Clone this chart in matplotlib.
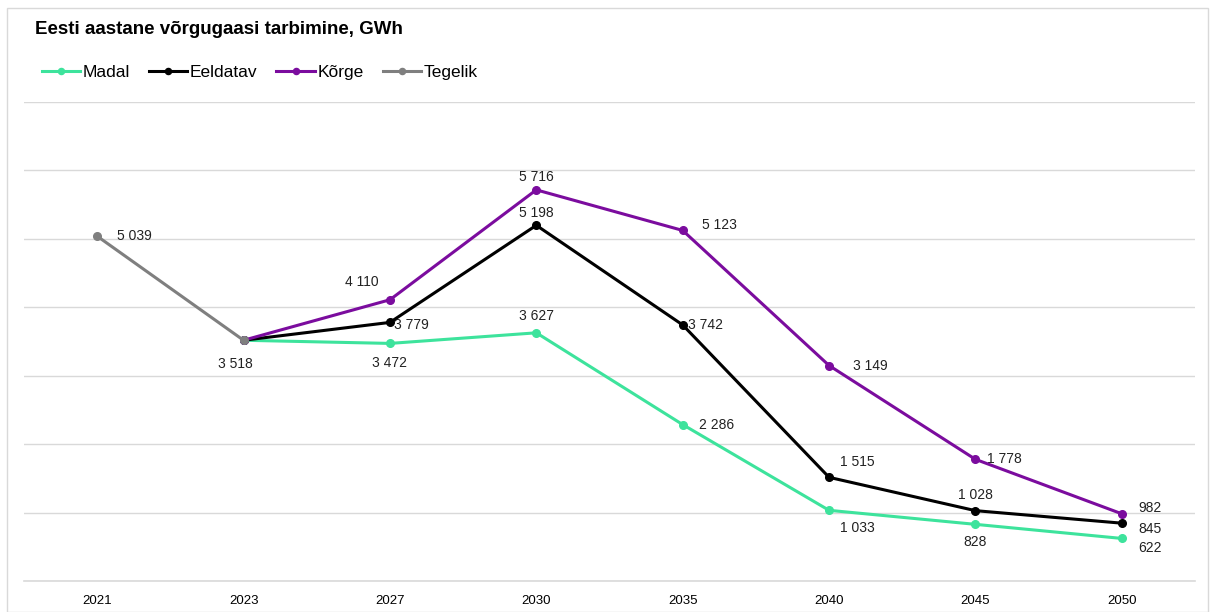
import matplotlib
matplotlib.use("Agg")
import matplotlib.pyplot as plt
from matplotlib.patches import Rectangle
import numpy as np

plt.rcParams["font.family"] = ["Liberation Sans", "DejaVu Sans"]

years = ["2021", "2023", "2027", "2030", "2035", "2040", "2045", "2050"]
tegelik = [5039, 3518]
madal = [3518, 3472, 3627, 2286, 1033, 828, 622]
eeldatav = [3518, 3779, 5198, 3742, 1515, 1028, 845]
korge = [3518, 4110, 5716, 5123, 3149, 1778, 982]

# label offsets in points (dx, dy, ha, va) per point
madal_off = [None, (0, -9, "center", "top"), (0, 7, "center", "bottom"), (12, 0, "left", "center"),
             (8, -8, "left", "top"), (0, -8, "center", "top"), (12, -7, "left", "center")]
eeld_off = [None, (3, -2, "left", "center"), (0, 4, "center", "bottom"), (4, 0, "left", "center"),
            (8, 6, "left", "bottom"), (0, 6, "center", "bottom"), (12, -4, "left", "center")]
korge_off = [None, (-8, 8, "right", "bottom"), (0, 4, "center", "bottom"), (14, 4, "left", "center"),
             (17, 0, "left", "center"), (8, 0, "left", "center"), (12, 4, "left", "center")]
teg_off = [(14, 0, "left", "center"), (-6, -12, "center", "top")]

GREEN = "#3de39c"
BLACK = "#000000"
PURPLE = "#7b0c9e"
GRAY = "#7f7f7f"

def fmt(v):
    return f"{v:,}".replace(",", " ")

fig = plt.figure(figsize=(12.1, 6.12), dpi=100)
fig.patches.append(Rectangle((7 / 1210, 0), 1 - 9 / 1210, 1 - 8 / 612, transform=fig.transFigure,
                             fill=False, edgecolor="#d9d9d9", lw=1))
ax = fig.add_axes([24 / 1210, 31 / 612, (1195 - 24) / 1210, (581 - 102) / 612])

x = np.arange(len(years))
lw, ms = 2.2, 5.5
ax.plot(x[1:], madal, color=GREEN, lw=lw, marker="o", ms=ms, label="Madal", zorder=3)
ax.plot(x[1:], eeldatav, color=BLACK, lw=lw, marker="o", ms=ms, label="Eeldatav", zorder=4)
ax.plot(x[1:], korge, color=PURPLE, lw=lw, marker="o", ms=ms, label="Kõrge", zorder=5)
ax.plot(x[:2], tegelik, color=GRAY, lw=lw, marker="o", ms=ms, label="Tegelik", zorder=6)

for series, offs, xs in [(madal, madal_off, x[1:]), (eeldatav, eeld_off, x[1:]),
                         (korge, korge_off, x[1:]), (tegelik, teg_off, x[:2])]:
    for xi, v, off in zip(xs, series, offs):
        if off is None:
            continue
        dx, dy, ha, va = off
        ax.annotate(fmt(v), (xi, v), xytext=(dx, dy), textcoords="offset points",
                    ha=ha, va=va, fontsize=10, color="#222222")

ax.set_xlim(-0.5, len(years) - 0.5)
ax.set_ylim(0, 7000)
ax.set_xticks(x)
ax.set_xticklabels(years, fontsize=9.5)
ax.set_yticks(np.arange(0, 7001, 1000))
ax.set_yticklabels([])
ax.tick_params(axis="both", length=0, pad=10)
ax.grid(axis="y", color="#d9d9d9", lw=1)
ax.set_axisbelow(True)
for s in ["top", "right", "left"]:
    ax.spines[s].set_visible(False)
ax.spines["bottom"].set_color("#d9d9d9")
ax.spines["bottom"].set_linewidth(1.2)

fig.text(35 / 1210, 1 - 30 / 612, "Eesti aastane võrgugaasi tarbimine, GWh", fontsize=13.5,
         fontweight="bold", va="center", ha="left")
fig.legend(loc="center left", bbox_to_anchor=(26 / 1210, 1 - 72 / 612), ncol=4, frameon=False,
           fontsize=12.5, handlelength=2.2, handletextpad=0.15, columnspacing=1.1,
           markerscale=0.8)

fig.savefig("out.png", dpi=100)
